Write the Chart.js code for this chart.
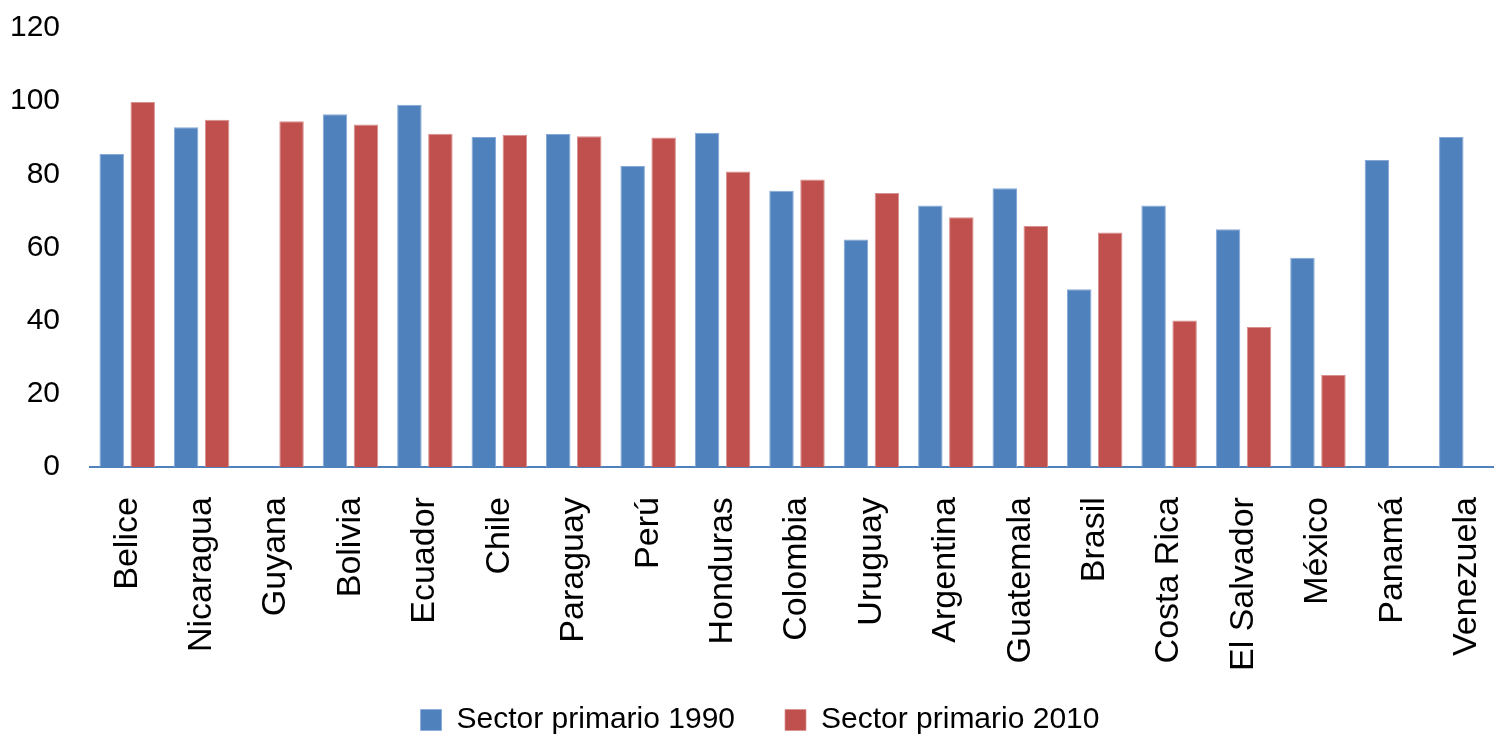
<!DOCTYPE html>
<html>
<head>
<meta charset="utf-8">
<script src="https://cdn.jsdelivr.net/npm/chart.js@4/dist/chart.umd.min.js"></script>
<style>
    html, body { margin: 0; padding: 0; background: #fff; }
    #wrap { width: 1494px; height: 736px; position: relative; }
</style>
</head>
<body>
<div id="wrap"><canvas id="sectorChart"></canvas></div>
<script>
const countries = ['Belice', 'Nicaragua', 'Guyana', 'Bolivia', 'Ecuador', 'Chile', 'Paraguay', 'Perú',
    'Honduras', 'Colombia', 'Uruguay', 'Argentina', 'Guatemala', 'Brasil', 'Costa Rica',
    'El Salvador', 'México', 'Panamá', 'Venezuela'];
const primario1990 = [85.6, 92.9, null, 96.4, 99.0, 90.2, 91.0, 82.3, 91.4, 75.5, 62.2, 71.5, 76.2,
    48.6, 71.5, 65.0, 57.2, 83.9, 90.2];
const primario2010 = [99.8, 94.9, 94.5, 93.6, 91.1, 90.8, 90.4, 90.1, 80.8, 78.6, 74.9, 68.3, 65.9,
    64.1, 40.1, 38.3, 25.2, null, null];
const yTicks = [0, 20, 40, 60, 80, 100, 120];

const fontFamily = '"Liberation Sans", Arial, Helvetica, sans-serif';

// the plot runs a little past the right edge in the original,
// and the legend keeps its wide spacing but sits a bit higher
const layoutTweaks = {
    id: 'layoutTweaks',
    afterLayout(chart) {
        const x = chart.scales.x;
        x.right += 10;
        x.width += 10;
        x.configure();
        chart.chartArea.right += 10;
        chart.chartArea.width += 10;

        chart.legend.top -= 16;
        chart.legend.bottom -= 16;
        chart.legend.left += 8;
        chart.legend.right += 8;
    }
};

const ctx = document.getElementById('sectorChart').getContext('2d');
new Chart(ctx, {
    type: 'bar',
    data: {
        labels: countries,
        datasets: [{
            label: 'Sector primario 1990',
            data: primario1990,
            backgroundColor: '#4F81BD',
            borderColor: '#86A8D6',
            borderWidth: { top: 1, left: 1, right: 1, bottom: 0 },
            categoryPercentage: 0.833,
            barPercentage: 0.79
        }, {
            label: 'Sector primario 2010',
            data: primario2010,
            backgroundColor: '#C0504D',
            borderColor: '#D8908E',
            borderWidth: { top: 1, left: 1, right: 1, bottom: 0 },
            categoryPercentage: 0.833,
            barPercentage: 0.79
        }]
    },
    options: {
        responsive: true,
        maintainAspectRatio: false,
        animation: false,
        layout: {
            padding: { top: 28, left: 10, right: 0, bottom: -25 }
        },
        scales: {
            x: {
                grid: { display: false, drawTicks: false },
                border: { display: true, color: '#4F81BD', width: 2 },
                ticks: {
                    color: '#000',
                    font: { family: fontFamily, size: 34 },
                    minRotation: 90,
                    maxRotation: 90,
                    autoSkip: false,
                    padding: 30
                },
                afterFit: (scale) => {
                    // chart.js reserves the tick padding twice
                    scale.height -= 30;
                    scale.paddingLeft = 0;
                    scale.paddingRight = 0;
                }
            },
            y: {
                min: yTicks[0],
                max: yTicks[yTicks.length - 1],
                grid: { display: false, drawTicks: false },
                border: { display: false },
                afterBuildTicks: (scale) => { scale.ticks = yTicks.map(v => ({ value: v })); },
                afterFit: (scale) => {
                    scale.width = 80;
                    scale.paddingTop = 0;
                    scale.paddingBottom = 0;
                },
                ticks: {
                    color: '#000',
                    font: { family: fontFamily, size: 30 },
                    padding: 30
                }
            }
        },
        plugins: {
            legend: {
                position: 'bottom',
                labels: {
                    color: '#000',
                    font: { family: fontFamily, size: 30 },
                    boxWidth: 21,
                    boxHeight: 21,
                    padding: 50
                }
            },
            tooltip: { enabled: false }
        }
    },
    plugins: [layoutTweaks]
});
</script>
</body>
</html>
